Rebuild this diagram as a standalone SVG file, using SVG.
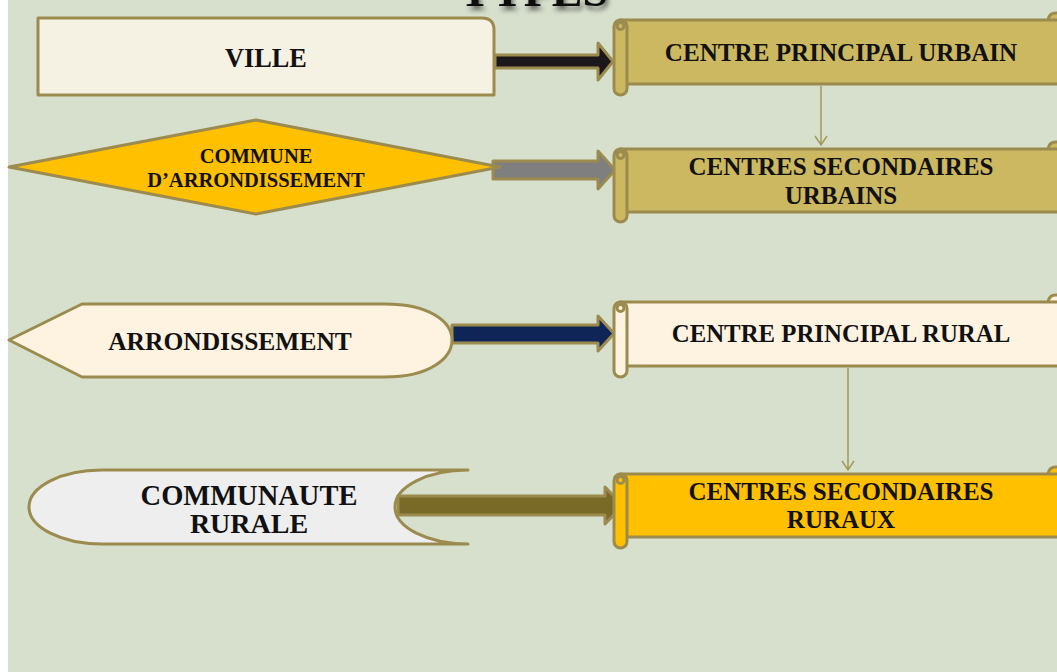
<svg xmlns="http://www.w3.org/2000/svg" width="1057" height="672" viewBox="0 0 1057 672">
<defs>
<style>
.t{font-family:"Liberation Serif","Times New Roman",serif;font-weight:bold;fill:#111;text-anchor:middle}
.ol{stroke:#9C8B4E;stroke-width:3;stroke-linejoin:round}
.con{stroke:#A39A5A;stroke-width:1.5;fill:none}
</style>
<filter id="sh" x="-20%" y="-50%" width="140%" height="220%">
<feGaussianBlur in="SourceAlpha" stdDeviation="2.5"/>
<feOffset dx="2" dy="4" result="b"/>
<feFlood flood-color="#000" flood-opacity="0.55"/>
<feComposite in2="b" operator="in"/>
<feMerge><feMergeNode/><feMergeNode in="SourceGraphic"/></feMerge>
</filter>
</defs>
<rect x="0" y="0" width="1057" height="672" fill="#ffffff"/>
<rect x="8" y="0" width="1049" height="672" fill="#D7DFCD"/>

<text class="t" x="534" y="6" font-size="46" filter="url(#sh)">TYPES</text>

<g id="connectors">
<path class="ol" d="M495,55 H598 V43 L613,61.5 L598,80 V68 H495 Z" fill="#1B171A"/>
<path class="ol" d="M493,161 H598 V151 L615,170 L598,189 V179 H493 Z" fill="#7F7F7F"/>
<path class="ol" d="M452,325 H598 V316 L614,333.5 L598,351 V343 H452 Z" fill="#0F2558"/>
<path class="con" d="M821,86 V145 M815,136 L821,145 L827,136"/>
<path class="con" d="M848,368 V470 M842,461 L848,470 L854,461"/>
</g>

<g id="ville">
<path class="ol" d="M38,18 H482 Q494,18 494,30 V95 H38 Z" fill="#F5F2E3"/>
<text class="t" x="266" y="67" font-size="26.3">VILLE</text>
</g>

<g id="commune-arrondissement">
<path class="ol" d="M9,167 L256,120 L500,167 L256,214 Z" fill="#FFC000"/>
<text class="t" x="256" y="163" font-size="20.5">COMMUNE</text>
<text class="t" x="256" y="187" font-size="20.5">D’ARRONDISSEMENT</text>
</g>

<g id="arrondissement">
<path class="ol" d="M9,340 L82,304 H385 C430,304 452,322 452,340 C452,358 430,377 385,377 H82 Z" fill="#FDF3E0"/>
<text class="t" x="230" y="350" font-size="25.5">ARRONDISSEMENT</text>
</g>

<g id="communaute-rurale">
<path class="ol" d="M102,470 H468 A73,37 0 0 0 468,544 H102 A73,37 0 0 1 102,470 Z" fill="#EEEEEE"/>
<text class="t" x="249" y="505" font-size="28.5">COMMUNAUTE</text>
<text class="t" x="249" y="533" font-size="28">RURALE</text>
</g>

<g id="arrow-communaute">
<path class="ol" d="M398,496 H605 V487 L623,505.5 L605,524 V515 H398 Z" fill="#7A6A28"/>
</g>

<g id="centre-principal-urbain">
<path class="ol" d="M1048,20 Q1049,13 1056,13 Q1063,13 1063,20" fill="#CDB862"/>
<rect class="ol" x="620" y="20" width="445" height="64" fill="#CDB862"/>
<rect class="ol" x="614" y="20" width="13" height="75" rx="6.5" fill="#CDB862"/>
<circle class="ol" cx="620.5" cy="26" r="3.5" fill="#CDB862" stroke-width="2"/>
<text class="t" x="841" y="61" font-size="25.1">CENTRE PRINCIPAL URBAIN</text>
</g>

<g id="centres-secondaires-urbains">
<path class="ol" d="M1048,149 Q1049,142 1056,142 Q1063,142 1063,149" fill="#CDB862"/>
<rect class="ol" x="620" y="149" width="445" height="63" fill="#CDB862"/>
<rect class="ol" x="614" y="149" width="13" height="73" rx="6.5" fill="#CDB862"/>
<circle class="ol" cx="620.5" cy="155" r="3.5" fill="#CDB862" stroke-width="2"/>
<text class="t" x="841" y="175" font-size="25">CENTRES SECONDAIRES</text>
<text class="t" x="841" y="204" font-size="25">URBAINS</text>
</g>

<g id="centre-principal-rural">
<path class="ol" d="M1048,302 Q1049,295 1056,295 Q1063,295 1063,302" fill="#FDF3E0"/>
<rect class="ol" x="620" y="302" width="445" height="64" fill="#FDF3E0"/>
<rect class="ol" x="614" y="302" width="13" height="75" rx="6.5" fill="#FDF3E0"/>
<circle class="ol" cx="620.5" cy="308" r="3.5" fill="#FDF3E0" stroke-width="2"/>
<text class="t" x="841" y="342" font-size="24.8">CENTRE PRINCIPAL RURAL</text>
</g>

<g id="centres-secondaires-ruraux">
<path class="ol" d="M1048,474 Q1049,467 1056,467 Q1063,467 1063,474" fill="#FFC000"/>
<rect class="ol" x="620" y="474" width="445" height="63" fill="#FFC000"/>
<rect class="ol" x="614" y="474" width="13" height="74" rx="6.5" fill="#FFC000"/>
<circle class="ol" cx="620.5" cy="480" r="3.5" fill="#FFC000" stroke-width="2"/>
<text class="t" x="841" y="500" font-size="25">CENTRES SECONDAIRES</text>
<text class="t" x="841" y="528" font-size="25">RURAUX</text>
</g>
</svg>
